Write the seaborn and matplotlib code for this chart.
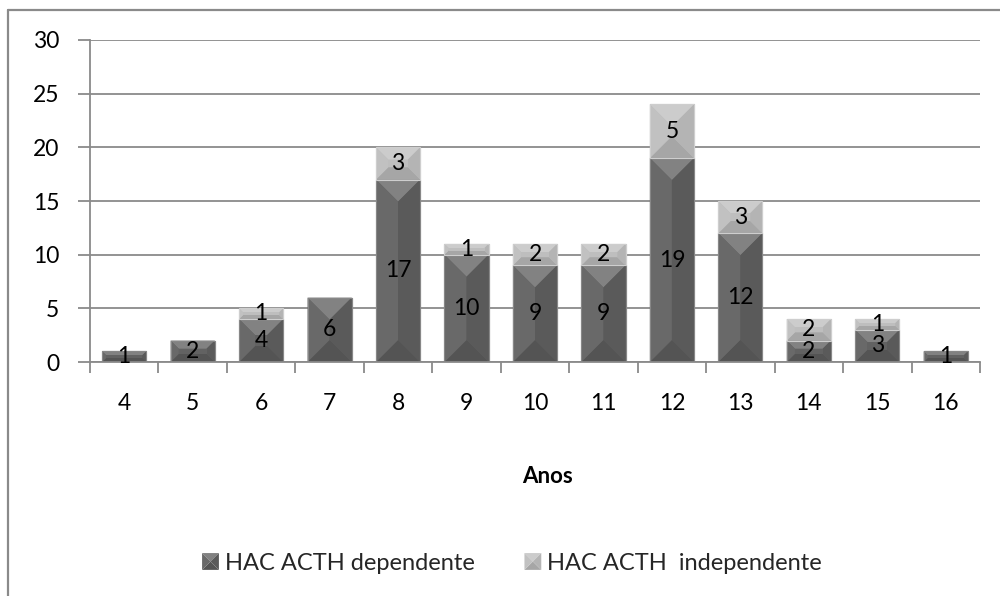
import matplotlib
matplotlib.use("Agg")
import matplotlib.pyplot as plt
from matplotlib.patches import Polygon, Patch
from matplotlib.lines import Line2D
from matplotlib.legend_handler import HandlerBase
import numpy as np
import pandas as pd
import seaborn as sns

# Age in years and number of cases per group
anos = ["4", "5", "6", "7", "8", "9", "10", "11", "12", "13", "14", "15", "16"]
dependente = [1, 2, 4, 6, 17, 10, 9, 9, 19, 12, 2, 3, 1]
independente = [0, 0, 1, 0, 3, 1, 2, 2, 5, 3, 2, 1, 0]

serie_dep = "HAC ACTH dependente"
serie_ind = "HAC ACTH  independente"

sns.set_theme(style="white")
plt.rcParams["font.family"] = ["Lato", "DejaVu Sans"]

GRID = "#8a8a8a"
DARK = "#5f5f5f"
LIGHT = "#bdbdbd"

fig = plt.figure(figsize=(10, 5.96), dpi=100)
ax = fig.add_axes([0.09, 0.3926, 0.89, 0.5403])

df = pd.DataFrame({"ano": anos, "dep": dependente, "ind": independente})

sns.barplot(data=df, x="ano", y="dep", color=DARK, saturation=1, width=0.645,
            edgecolor="#8e8e8e", linewidth=0.8, ax=ax)
n_dep = len(ax.patches)
sns.barplot(data=df, x="ano", y="ind", color=LIGHT, saturation=1, width=0.645,
            bottom=dependente, edgecolor="#a8a8a8", linewidth=0.8, ax=ax)

ax.set_xlim(-0.5, len(anos) - 0.5)
ax.set_ylim(0, 30)
ax.set_yticks(np.arange(0, 31, 5))
ax.set_axisbelow(True)
ax.yaxis.grid(True, color=GRID, linewidth=1.3)
ax.xaxis.grid(False)

for s in ["top", "right"]:
    ax.spines[s].set_visible(False)
for s in ["left", "bottom"]:
    ax.spines[s].set_color(GRID)
    ax.spines[s].set_linewidth(1.3)

# y ticks outside, x ticks between categories
ax.tick_params(axis="y", which="major", length=9, width=1.3, color=GRID,
               direction="out", pad=13, labelsize=16.5, labelcolor="black", left=True)
ax.set_xticks(np.arange(-0.5, len(anos)), minor=True)
ax.tick_params(axis="x", which="minor", length=8, width=1.3, color=GRID,
               direction="out", bottom=True)
ax.tick_params(axis="x", which="major", length=0, pad=22, labelsize=16.5,
               labelcolor="black")
ax.set_ylabel("")
ax.set_xlabel("Anos", fontsize=16, fontweight="bold", color="black")
ax.xaxis.set_label_coords(0.5146, -0.322)


def shade(c, f):
    rgb = np.array(matplotlib.colors.to_rgb(c))
    if f >= 0:
        rgb = rgb + (1 - rgb) * f
    else:
        rgb = rgb * (1 + f)
    return tuple(np.clip(rgb, 0, 1))


def bevel_faces(x0, y0, x1, y1, d):
    faces = [
        ([(x0, y1), (x1, y1), (x1 - d, y1 - d), (x0 + d, y1 - d)], 0.22),
        ([(x0, y0), (x1, y0), (x1 - d, y0 + d), (x0 + d, y0 + d)], -0.12),
        ([(x0, y0), (x0 + d, y0 + d), (x0 + d, y1 - d), (x0, y1)], 0.06),
        ([(x1, y0), (x1 - d, y0 + d), (x1 - d, y1 - d), (x1, y1)], -0.05),
    ]
    if (x1 - x0) / 2 - d > 0.5:
        faces.append(([(x0 + d, y0 + d), (x1 - d, y0 + d), (x1 - d, y1 - d),
                       (x0 + d, y1 - d)], 0.02))
    return faces


# Bevelled faces on every bar segment
inv = ax.transData.inverted()
fig.canvas.draw()
for i, p in enumerate(ax.patches):
    if p.get_height() <= 0:
        continue
    base = DARK if i < n_dep else LIGHT
    bb = p.get_window_extent()
    x0, y0, x1, y1 = bb.x0, bb.y0, bb.x1, bb.y1
    w, h = x1 - x0, y1 - y0
    d = min(w / 2, h * 0.38)
    for pts, f in bevel_faces(x0, y0, x1, y1, d):
        ax.add_patch(Polygon(inv.transform(np.array(pts)), closed=True,
                             facecolor=shade(base, f), edgecolor="none",
                             zorder=p.get_zorder() + 0.1))
    ax.add_patch(Polygon(inv.transform(np.array([(x0, y0), (x1, y0), (x1, y1), (x0, y1)])),
                         closed=True, facecolor="none", edgecolor=shade(base, 0.25),
                         linewidth=0.8, zorder=p.get_zorder() + 0.2))

# Value labels centred in each segment
for k in range(len(anos)):
    ax.text(k, dependente[k] / 2, str(dependente[k]), ha="center", va="center",
            fontsize=16.5, color="black", zorder=5)
    if independente[k] > 0:
        ax.text(k, dependente[k] + independente[k] / 2, str(independente[k]),
                ha="center", va="center", fontsize=16.5, color="black", zorder=5)


class BevelHandler(HandlerBase):
    def create_artists(self, legend, orig_handle, xdescent, ydescent, width,
                       height, fontsize, trans):
        base = orig_handle.get_facecolor()
        side = min(width, height)
        x0 = -xdescent + (width - side) / 2
        y0 = -ydescent + (height - side) / 2
        x1, y1 = x0 + side, y0 + side
        arts = []
        for pts, f in bevel_faces(x0, y0, x1, y1, side / 2):
            arts.append(Polygon(pts, closed=True, facecolor=shade(base, f),
                                edgecolor="none", transform=trans))
        return arts


handles = [Patch(facecolor=DARK, label=serie_dep),
           Patch(facecolor=LIGHT, label=serie_ind)]
fig.legend(handles=handles, loc="center", bbox_to_anchor=(0.512, 0.055), ncol=2,
           frameon=False, fontsize=17, handlelength=0.72, handleheight=0.72,
           handletextpad=0.25, columnspacing=2.1,
           handler_map={Patch: BevelHandler()})

# Outer chart frame
fig.add_artist(Line2D([0.008, 1.0], [1 - 10 / 596, 1 - 10 / 596], color=GRID,
                      linewidth=1.6, transform=fig.transFigure))
fig.add_artist(Line2D([0.008, 0.008], [0, 1 - 10 / 596], color=GRID,
                      linewidth=1.6, transform=fig.transFigure))

fig.savefig("out.png", dpi=100, facecolor="white")
